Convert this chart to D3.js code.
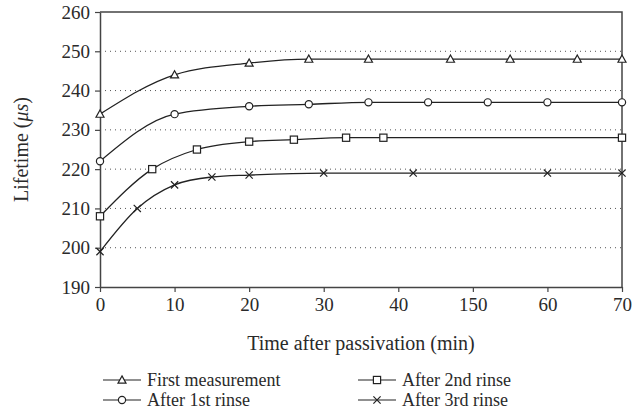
<!DOCTYPE html>
<html>
<head>
<meta charset="utf-8">
<script src="https://cdn.jsdelivr.net/npm/d3@7"></script>
<style>
  body { margin: 0; background: #fff; }
  text { font-family: "Liberation Serif", "Times New Roman", serif; fill: #2a2a2a; }
</style>
</head>
<body>
<svg id="chart" width="640" height="417"></svg>
<script>
// values
const xTicks = [0, 10, 20, 30, 40, 50, 60, 70];
const xTickLabels = ["0", "10", "20", "30", "40", "150", "60", "70"];
const yTicks = [190, 200, 210, 220, 230, 240, 250, 260];
const gridValues = [200, 210, 220, 230, 240, 250];

const firstX = [0, 10, 20, 28, 36, 47, 55, 64, 70];
const firstY = [234, 244, 247, 248, 248, 248, 248, 248, 248];
const rinse1X = [0, 10, 20, 28, 36, 44, 52, 60, 70];
const rinse1Y = [222, 234, 236, 236.5, 237, 237, 237, 237, 237];
const rinse2X = [0, 7, 13, 20, 26, 33, 38, 70];
const rinse2Y = [208, 220, 225, 227, 227.5, 228, 228, 228];
const rinse3X = [0, 5, 10, 15, 20, 30, 42, 60, 70];
const rinse3Y = [199, 210, 216, 218, 218.5, 219, 219, 219, 219];

const seriesNames = ["First measurement", "After 1st rinse", "After 2nd rinse", "After 3rd rinse"];
const seriesMarks = ["triangle", "circle", "square", "cross"];

const series = [
    { xs: firstX, ys: firstY },
    { xs: rinse1X, ys: rinse1Y },
    { xs: rinse2X, ys: rinse2Y },
    { xs: rinse3X, ys: rinse3Y }
].map((s, i) => ({
    name: seriesNames[i],
    mark: seriesMarks[i],
    points: s.xs.map((x, j) => ({ x: x, y: s.ys[j] }))
}));

const margin = { left: 100, top: 12, right: 18, bottom: 130 };
const width = 640, height = 417;
const innerW = width - margin.left - margin.right;
const innerH = height - margin.top - margin.bottom;

const svg = d3.select("#chart");
const g = svg.append("g").attr("transform", `translate(${margin.left},${margin.top})`);

const xScale = d3.scaleLinear().domain([0, 70]).range([0, innerW]);
const yScale = d3.scaleLinear().domain([190, 260]).range([innerH, 0]);

// dotted grid
g.selectAll(".grid")
    .data(gridValues)
    .join("line")
    .attr("class", "grid")
    .attr("x1", 0)
    .attr("x2", innerW)
    .attr("y1", d => yScale(d))
    .attr("y2", d => yScale(d))
    .attr("stroke", "#555")
    .attr("stroke-width", 1)
    .attr("stroke-dasharray", "1,4");

// frame top + right
g.append("path")
    .attr("d", `M0,0H${innerW}V${innerH}`)
    .attr("fill", "none")
    .attr("stroke", "#444")
    .attr("stroke-width", 1.5);

const xAxis = g.append("g")
    .attr("transform", `translate(0,${innerH})`)
    .call(d3.axisBottom(xScale)
        .tickValues(xTicks)
        .tickFormat((d, i) => xTickLabels[i])
        .tickSize(5)
        .tickSizeOuter(0)
        .tickPadding(6));

const yAxis = g.append("g")
    .call(d3.axisLeft(yScale)
        .tickValues(yTicks)
        .tickSize(5)
        .tickSizeOuter(0)
        .tickPadding(5));

[xAxis, yAxis].forEach(ax => {
    ax.select(".domain").attr("stroke", "#444").attr("stroke-width", 1.5);
    ax.selectAll(".tick line").attr("stroke", "#444").attr("stroke-width", 1.2);
    ax.selectAll(".tick text")
        .style("font-family", "'Liberation Serif', 'Times New Roman', serif")
        .style("font-size", "19px")
        .attr("fill", "#2a2a2a");
});

// axis titles
g.append("text")
    .attr("x", innerW / 2)
    .attr("y", 350 - margin.top)
    .attr("text-anchor", "middle")
    .style("font-size", "20px")
    .text("Time after passivation (min)");

const yTitle = g.append("text")
    .attr("transform", `translate(${28 - margin.left},${innerH / 2}) rotate(-90)`)
    .attr("text-anchor", "middle")
    .style("font-size", "20px");
yTitle.append("tspan").text("Lifetime (");
yTitle.append("tspan").style("font-style", "italic").text("\u03bcs");
yTitle.append("tspan").text(")");

// markers
const drawMark = (sel, type) => {
    const s = 3.6;
    if (type === "triangle") {
        sel.append("path")
            .attr("d", `M0,${-s - 0.5}L${s + 0.4},${s - 0.5}L${-s - 0.4},${s - 0.5}Z`)
            .attr("fill", "#fff").attr("stroke", "#222").attr("stroke-width", 1.2);
    } else if (type === "circle") {
        sel.append("circle").attr("r", s)
            .attr("fill", "#fff").attr("stroke", "#222").attr("stroke-width", 1.2);
    } else if (type === "square") {
        sel.append("rect").attr("x", -s).attr("y", -s).attr("width", 2 * s).attr("height", 2 * s)
            .attr("fill", "#fff").attr("stroke", "#222").attr("stroke-width", 1.2);
    } else {
        sel.append("path")
            .attr("d", `M${-s},${-s}L${s},${s}M${-s},${s}L${s},${-s}`)
            .attr("fill", "none").attr("stroke", "#222").attr("stroke-width", 1.2);
    }
};

const line = d3.line()
    .x(d => xScale(d.x))
    .y(d => yScale(d.y))
    .curve(d3.curveMonotoneX);

series.forEach(s => {
    g.append("path")
        .datum(s.points)
        .attr("d", line)
        .attr("fill", "none")
        .attr("stroke", "#222")
        .attr("stroke-width", 1.3);

    g.selectAll(null)
        .data(s.points)
        .join("g")
        .attr("transform", d => `translate(${xScale(d.x)},${yScale(d.y)})`)
        .each(function () { drawMark(d3.select(this), s.mark); });
});

// legend
const legendPos = [[103, 380], [103, 400], [358, 380], [358, 400]];
series.forEach((s, i) => {
    const [lx, ly] = legendPos[i];
    const lg = svg.append("g").attr("transform", `translate(${lx},${ly})`);
    lg.append("line").attr("x1", 0).attr("x2", 38).attr("y1", 0).attr("y2", 0)
        .attr("stroke", "#222").attr("stroke-width", 1.2);
    drawMark(lg.append("g").attr("transform", "translate(19,0)"), s.mark);
    lg.append("text")
        .attr("x", 44)
        .attr("y", 5.5)
        .style("font-size", "18px")
        .text(s.name);
});
</script>
</body>
</html>
